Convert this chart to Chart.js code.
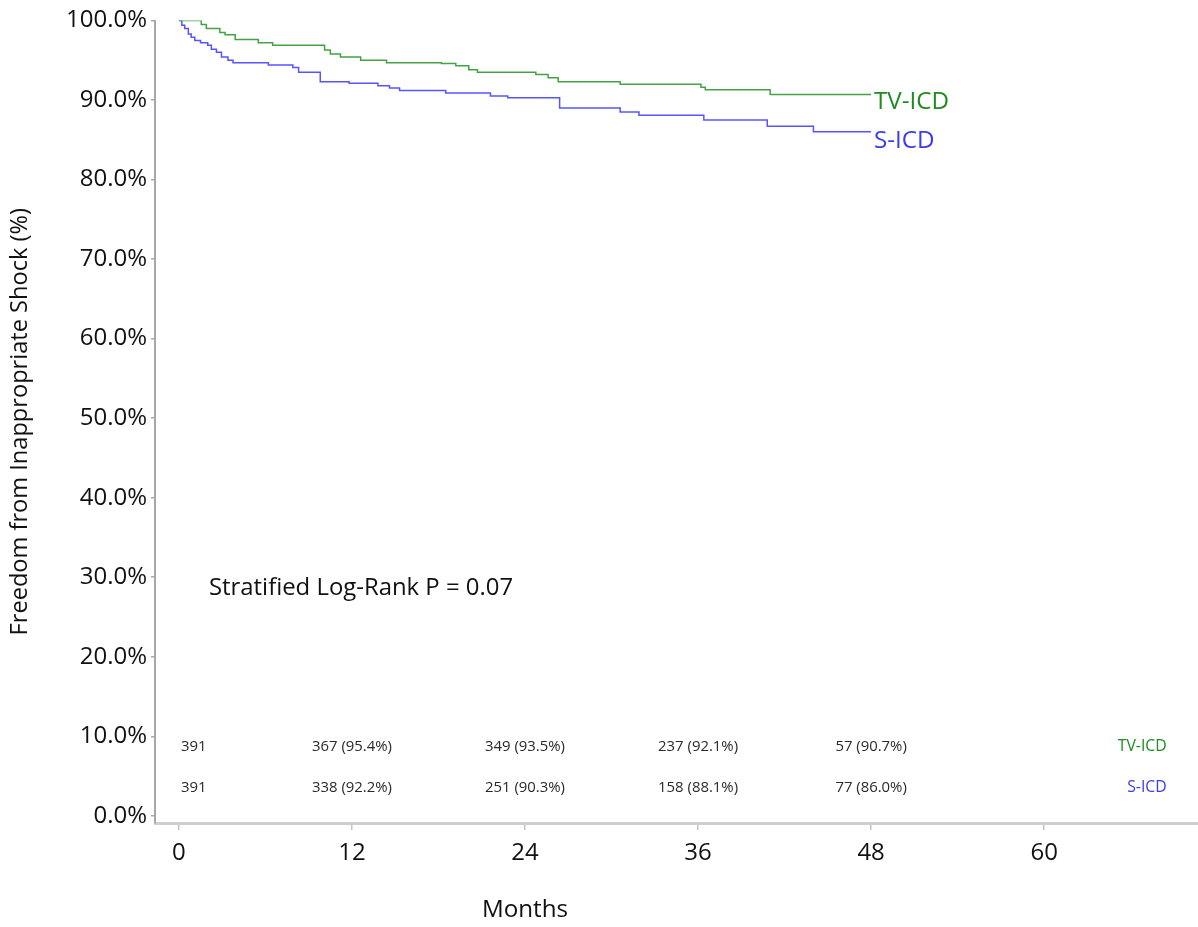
<!DOCTYPE html>
<html>
<head>
<meta charset="utf-8">
<script src="https://cdn.jsdelivr.net/npm/chart.js@4.4.0/dist/chart.umd.min.js"></script>
<style>
html,body{margin:0;padding:0;background:#fff;}
#wrap{width:1198px;height:927px;position:relative;}
</style>
</head>
<body>
<div id="wrap"><canvas id="c" width="1198" height="927"></canvas></div>
<script>
// ---- Data ----
const tvMonths = [0, 1.55, 1.9, 2.84, 3.2, 3.9, 5.5, 6.5, 10.1, 10.5, 11.2, 12.6, 14.4, 18.2, 19.2, 20.1, 20.7, 24.75, 25.6, 26.3, 30.6, 36.2, 36.5, 41.0, 48.0];
const tvSurv   = [100, 99.5, 99.0, 98.5, 98.2, 97.6, 97.2, 96.9, 96.3, 95.8, 95.4, 95.0, 94.7, 94.6, 94.3, 93.8, 93.5, 93.2, 92.8, 92.3, 92.0, 91.6, 91.3, 90.7, 90.7];
const sMonths  = [0, 0.2, 0.4, 0.65, 0.85, 1.1, 1.5, 2.0, 2.25, 2.6, 2.95, 3.4, 3.75, 6.2, 7.9, 8.3, 9.8, 11.8, 13.8, 14.6, 15.3, 18.5, 21.6, 22.8, 26.4, 30.6, 31.9, 36.4, 40.8, 44.0, 48.0];
const sSurv    = [100, 99.4, 99.0, 98.3, 97.9, 97.5, 97.2, 96.9, 96.4, 96.0, 95.4, 95.0, 94.7, 94.4, 94.1, 93.5, 92.3, 92.1, 91.8, 91.5, 91.2, 90.9, 90.5, 90.3, 89.0, 88.5, 88.1, 87.5, 86.7, 86.0, 86.0];

const seriesNames = ['TV-ICD', 'S-ICD'];
const xTicks = [0, 12, 24, 36, 48, 60];
const yTicks = [0, 10, 20, 30, 40, 50, 60, 70, 80, 90, 100];
const riskMonths = [0, 12, 24, 36, 48];
const tvRisk = ['391', '367 (95.4%)', '349 (93.5%)', '237 (92.1%)', '57 (90.7%)'];
const sRisk  = ['391', '338 (92.2%)', '251 (90.3%)', '158 (88.1%)', '77 (86.0%)'];
const pText = 'Stratified Log-Rank P = 0.07';
const yTitle = 'Freedom from Inappropriate Shock (%)';
const xTitle = 'Months';

// ---- Styles ----
const FAMILY = '"Open Sans", "Noto Sans", sans-serif';
const mctx = document.createElement('canvas').getContext('2d');
function fit(text, w) { mctx.font = '100px ' + FAMILY; return Math.round(1000 * w / mctx.measureText(text).width) / 10; }
const tickSize = fit('100.0%', 81);
const yTitleSize = fit(yTitle, 427);
const xTitleSize = fit(xTitle, 86);
const pSize = fit(pText, 304);
const curveLabelSize = fit('TV-ICD', 75);
const riskSize = fit('367 (95.4%)', 80);
const rowLabelSize = fit('TV-ICD', 49);

const GREEN_LINE = '#43a343', BLUE_LINE = '#5555ff';
const GREEN_TXT = '#1e8c1e', BLUE_TXT = '#3b3bf2';

const annot = {
  id: 'annot',
  afterDraw(chart) {
    const { ctx, scales: { x, y } } = chart;
    ctx.save();
    ctx.textBaseline = 'middle';
    // curve end labels
    ctx.font = curveLabelSize + 'px ' + FAMILY;
    ctx.textAlign = 'left';
    ctx.fillStyle = GREEN_TXT;
    ctx.fillText(seriesNames[0], x.getPixelForValue(48.2), y.getPixelForValue(89.7));
    ctx.fillStyle = BLUE_TXT;
    ctx.fillText(seriesNames[1], x.getPixelForValue(48.2), y.getPixelForValue(84.8));
    // p-value
    ctx.font = pSize + 'px ' + FAMILY;
    ctx.fillStyle = '#111';
    ctx.fillText(pText, x.getPixelForValue(2.08), y.getPixelForValue(28.6));
    // at-risk table
    ctx.font = riskSize + 'px ' + FAMILY;
    ctx.fillStyle = '#2a2a2a';
    riskMonths.forEach((m, i) => {
      ctx.textAlign = i === 0 ? 'left' : 'center';
      const px = x.getPixelForValue(m) + (i === 0 ? 2 : 0);
      ctx.fillText(tvRisk[i], px, y.getPixelForValue(8.73));
      ctx.fillText(sRisk[i], px, y.getPixelForValue(3.58));
    });
    ctx.font = rowLabelSize + 'px ' + FAMILY;
    ctx.textAlign = 'right';
    ctx.fillStyle = GREEN_TXT;
    ctx.fillText(seriesNames[0], x.getPixelForValue(68.5), y.getPixelForValue(8.73));
    ctx.fillStyle = BLUE_TXT;
    ctx.fillText(seriesNames[1], x.getPixelForValue(68.5), y.getPixelForValue(3.58));
    // x title
    ctx.font = xTitleSize + 'px ' + FAMILY;
    ctx.textAlign = 'center';
    ctx.fillStyle = '#111';
    ctx.fillText(xTitle, x.getPixelForValue(24), 910);
    ctx.restore();
  }
};

new Chart(document.getElementById('c'), {
  type: 'line',
  data: {
    datasets: [
      { label: seriesNames[0], data: tvMonths.map((m, i) => ({ x: m, y: tvSurv[i] })), borderColor: GREEN_LINE, borderWidth: 1.5, stepped: 'before', pointRadius: 0, fill: false },
      { label: seriesNames[1], data: sMonths.map((m, i) => ({ x: m, y: sSurv[i] })), borderColor: BLUE_LINE, borderWidth: 1.5, stepped: 'before', pointRadius: 0, fill: false }
    ]
  },
  options: {
    responsive: false,
    animation: false,
    devicePixelRatio: 1,
    layout: { padding: { top: 20.5, right: 0, bottom: 0, left: 0 } },
    plugins: { legend: { display: false }, tooltip: { enabled: false } },
    scales: {
      x: {
        type: 'linear', min: -1.66, max: 70.67,
        afterBuildTicks: s => { s.ticks = xTicks.map(v => ({ value: v })); },
        afterFit: s => { s.height = 104; },
        ticks: { font: { family: FAMILY, size: tickSize }, color: '#111', padding: 9, maxRotation: 0, callback: v => String(v) },
        grid: { drawOnChartArea: false, drawTicks: true, tickLength: 7, color: '#c4c4c4', lineWidth: 1.5 },
        border: { color: '#cfcfcf', width: 3 }
      },
      y: {
        type: 'linear', min: -0.9, max: 100,
        afterBuildTicks: s => { s.ticks = yTicks.map(v => ({ value: v })); },
        afterFit: s => { s.width = 155; },
        ticks: { font: { family: FAMILY, size: tickSize }, color: '#111', padding: 4, callback: v => v.toFixed(1) + '%' },
        grid: { drawOnChartArea: false, drawTicks: true, tickLength: 4, color: '#a8a8a8', lineWidth: 1.5 },
        border: { color: '#a8a8a8', width: 2 },
        title: { display: true, text: yTitle, font: { family: FAMILY, size: yTitleSize }, color: '#111', padding: { top: 6, bottom: 0 } }
      }
    }
  },
  plugins: [annot]
});
</script>
</body>
</html>
